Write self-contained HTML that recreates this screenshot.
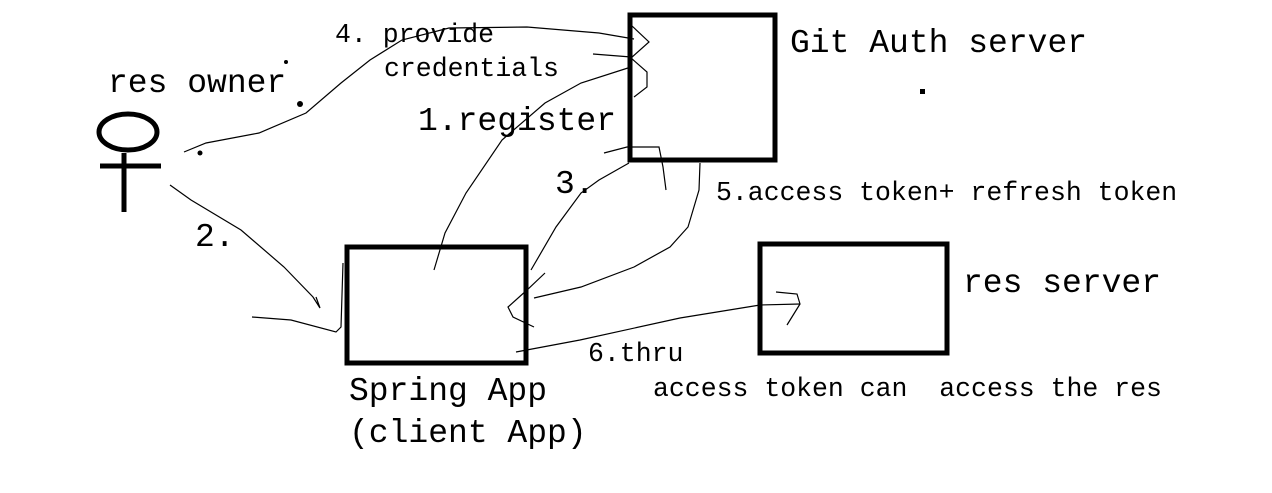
<!DOCTYPE html>
<html><head><style>body{margin:0;background:#fff}svg{display:block}text{font-family:"Liberation Mono","DejaVu Sans Mono",monospace;fill:#000}</style></head>
<body>
<svg width="1272" height="493" viewBox="0 0 1272 493" xmlns="http://www.w3.org/2000/svg">
<g fill="none" stroke="#000" stroke-width="5">
<rect x="630" y="15" width="145" height="145"/>
<rect x="347" y="247" width="179" height="116"/>
<rect x="760" y="244" width="187" height="109"/>
<ellipse cx="128" cy="132" rx="29" ry="18"/>
<line x1="100" y1="166" x2="161" y2="166"/>
<line x1="124" y1="153" x2="124" y2="212"/>
</g>
<g fill="none" stroke="#000" stroke-width="1.2">
<path d="M184,152 L206,143 L259,133 L306,113 L341,83 L370,60 L402,40 L449,28 L527,27 L599,33 L634,39"/>
<path d="M631,25 L649,42 L631,58 L647,72 L647,87 L634,97"/>
<path d="M593,54 L631,57"/>
<path d="M434,270 L445,233 L466,193 L502,140 L545,103 L581,83 L631,67"/>
<path d="M629,163 L599,180 L581,193 L556,227 L531,270"/>
<path d="M545,273 L527,290 L508,307 L513,317 L534,327"/>
<path d="M700,163 L699,190 L688,227 L670,247 L634,267 L581,287 L534,298"/>
<path d="M604,153 L627,147 L659,147 L663,167 L666,190"/>
<path d="M170,185 L191,200 L241,230 L284,267 L313,297 L320,308 L316,297"/>
<path d="M252,317 L291,320 L336,332 L341,327 L343,263"/>
<path d="M516,352 L580,340 L680,318 L760,305 L800,304"/>
<path d="M776,292 L797,294 L800,304 L787,325"/>
</g>
<g fill="#000">
<rect x="920" y="89" width="5" height="5"/>
<circle cx="286" cy="62" r="2"/>
<circle cx="300" cy="104" r="3"/>
<circle cx="200" cy="153" r="2.5"/>
</g>
<g font-size="33">
<text x="790" y="52">Git Auth server</text>
<text x="108" y="92">res owner</text>
<text x="418" y="130">1.register</text>
<text x="555" y="193">3.</text>
<text x="195" y="246">2.</text>
<text x="963" y="292">res server</text>
<text x="349" y="400">Spring App</text>
<text x="349" y="442">(client App)</text>
</g>
<g font-size="26.5">
<text x="335" y="42">4. provide</text>
<text x="384" y="76">credentials</text>
<text x="716" y="200">5.access token+ refresh token</text>
<text x="588" y="361">6.thru</text>
<text x="653" y="396" xml:space="preserve">access token can  access the res</text>
</g>
</svg>
</body></html>
